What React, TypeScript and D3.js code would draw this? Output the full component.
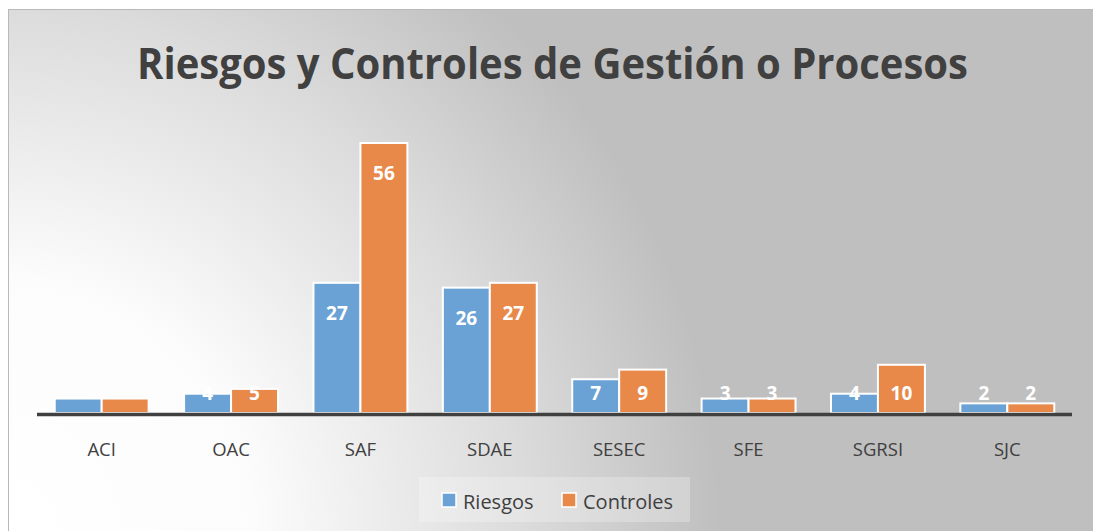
import React from "react";
import * as d3 from "d3";

const categories = ["ACI", "OAC", "SAF", "SDAE", "SESEC", "SFE", "SGRSI", "SJC"];
const seriesNames = ["Riesgos", "Controles"];
const riesgos = [3, 4, 27, 26, 7, 3, 4, 2];
const controles = [3, 5, 56, 27, 9, 3, 10, 2];
const unlabeledCategories = ["ACI"];
const colors = ["#6aa2d5", "#e8894a"];

const W = 1093;
const H = 531;

export default function App() {
  const x = d3.scaleBand<string>().domain(categories).range([37, 1072]).paddingInner(0.274).paddingOuter(0.137);
  const xi = d3.scaleBand<string>().domain(seriesNames).range([0, x.bandwidth()]).padding(0);
  const y = d3.scaleLinear().domain([0, 56]).range([413, 143]);
  const data = [riesgos, controles];

  return (
    <svg width={W} height={H} style={{ position: "absolute", left: 0, top: 0 }} fontFamily="'Open Sans', sans-serif">
      <defs>
        <radialGradient id="bg" gradientUnits="userSpaceOnUse" cx={0} cy={531} r={720}>
          <stop offset="0" stopColor="#ffffff" />
          <stop offset="0.35" stopColor="#fcfcfc" />
          <stop offset="0.72" stopColor="#dcdcdc" />
          <stop offset="1" stopColor="#bfbfbf" />
        </radialGradient>
      </defs>
      <rect x={0} y={0} width={W} height={H} fill="#ffffff" />
      <rect x={8.5} y={9.5} width={W + 10} height={H + 10} fill="url(#bg)" stroke="#b9b9b9" strokeWidth={1} />
      <text
        x={552.5}
        y={79}
        textAnchor="middle"
        fontSize={43}
        fontWeight={700}
        fill="#404040"
        textLength={831}
        lengthAdjust="spacingAndGlyphs"
      >
        Riesgos y Controles de Gestión o Procesos
      </text>
      {categories.map((c, ci) => (
        <g key={c}>
          {seriesNames.map((s, si) => {
            const v = data[si][ci];
            const bx = (x(c) as number) + (xi(s) as number);
            const top = y(v);
            const ty = Math.min(top + 37, 400);
            return (
              <g key={s}>
                <rect
                  x={bx}
                  y={top}
                  width={xi.bandwidth()}
                  height={y(0) - top}
                  fill={colors[si]}
                  stroke="#ffffff"
                  strokeWidth={2}
                />
                {!unlabeledCategories.includes(c) && (
                  <text
                    x={bx + xi.bandwidth() / 2}
                    y={ty}
                    textAnchor="middle"
                    fontSize={19}
                    fontWeight={700}
                    fill="#ffffff"
                  >
                    {v}
                  </text>
                )}
              </g>
            );
          })}
          <text
            x={(x(c) as number) + x.bandwidth() / 2}
            y={456}
            textAnchor="middle"
            fontSize={18.5}
            fill="#404040"
          >
            {c}
          </text>
        </g>
      ))}
      <line x1={37} x2={1072} y1={414.5} y2={414.5} stroke="#404040" strokeWidth={3.5} />
      <g>
        <rect x={419} y={477} width={271} height={45} fill="#ffffff" fillOpacity={0.25} />
        {seriesNames.map((s, i) => {
          const lx = [442, 562][i];
          return (
            <g key={s}>
              <rect x={lx} y={493} width={14} height={14} fill={colors[i]} stroke="#ffffff" strokeWidth={1.5} />
              <text x={lx + 21} y={509} fontSize={20} fill="#404040">
                {s}
              </text>
            </g>
          );
        })}
      </g>
    </svg>
  );
}
